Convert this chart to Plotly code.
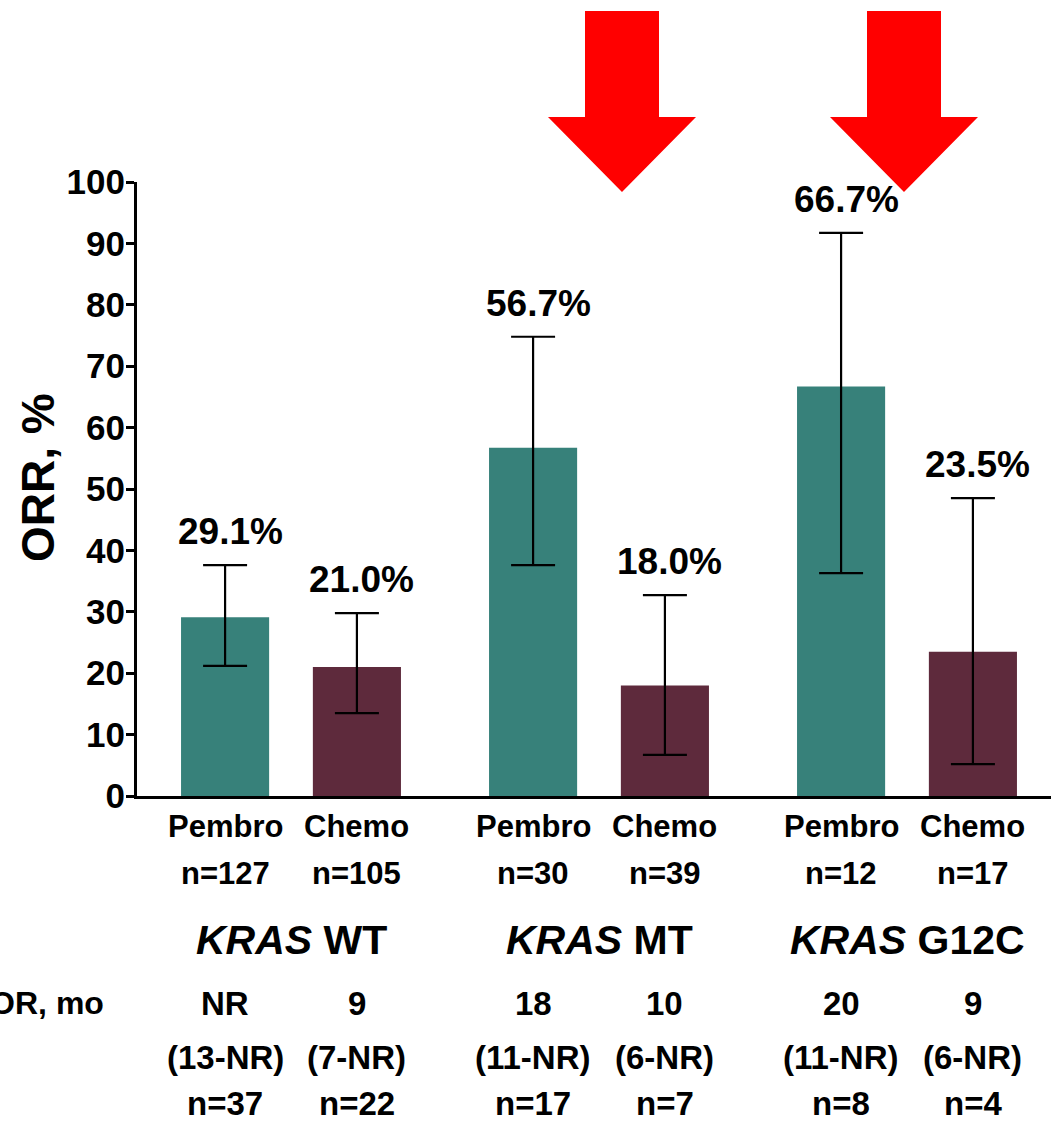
import plotly.graph_objects as go

# ---- data -------------------------------------------------------------
groups = ["WT", "MT", "G12C"]
arms = ["Pembro", "Chemo"]

orr_pembro = [29.1, 56.7, 66.7]
orr_chemo = [21.0, 18.0, 23.5]
ci_low_pembro = [21.2, 37.6, 36.3]
ci_high_pembro = [37.6, 74.8, 91.7]
ci_low_chemo = [13.5, 6.7, 5.2]
ci_high_chemo = [29.8, 32.7, 48.5]

n_pembro = ["n=127", "n=30", "n=12"]
n_chemo = ["n=105", "n=39", "n=17"]

dor_pembro = ["NR", "18", "20"]
dor_ci_pembro = ["(13-NR)", "(11-NR)", "(11-NR)"]
dor_n_pembro = ["n=37", "n=17", "n=8"]
dor_chemo = ["9", "10", "9"]
dor_ci_chemo = ["(7-NR)", "(6-NR)", "(6-NR)"]
dor_n_chemo = ["n=22", "n=7", "n=4"]

yticks = list(range(0, 101, 10))

# ---- styling ----------------------------------------------------------
W, H = 1051, 1122
ML, MR, MT, MB = 137, 0, 182, 326
TEAL = "#37817A"
MAROON = "#5E2A3C"
FONT = "Liberation Sans, Arial, Helvetica, sans-serif"
OFFSET = 0.214      # half distance between the two bars of a group
BAR_W = 0.286
GROUP_PX = 308      # pixel distance between neighbouring group centres

plot_h = H - MT - MB
axis_bottom = H - MB


def px_to_paper(px, py):
    return (px - ML) / (W - ML - MR), (axis_bottom - py) / plot_h


x_group = list(range(len(groups)))
x_pembro = [g - OFFSET for g in x_group]
x_chemo = [g + OFFSET for g in x_group]

fig = go.Figure()

fig.add_trace(go.Bar(
    x=x_pembro, y=orr_pembro, width=BAR_W, name=arms[0],
    marker=dict(color=TEAL, line=dict(width=0)),
    error_y=dict(type="data", symmetric=False,
                 array=[h - v for h, v in zip(ci_high_pembro, orr_pembro)],
                 arrayminus=[v - l for l, v in zip(ci_low_pembro, orr_pembro)],
                 color="black", thickness=2.2, width=22),
))
fig.add_trace(go.Bar(
    x=x_chemo, y=orr_chemo, width=BAR_W, name=arms[1],
    marker=dict(color=MAROON, line=dict(width=0)),
    error_y=dict(type="data", symmetric=False,
                 array=[h - v for h, v in zip(ci_high_chemo, orr_chemo)],
                 arrayminus=[v - l for l, v in zip(ci_low_chemo, orr_chemo)],
                 color="black", thickness=2.2, width=22),
))

annotations = []

# value labels above the upper confidence limit
for xs, vals, highs in ((x_pembro, orr_pembro, ci_high_pembro),
                        (x_chemo, orr_chemo, ci_high_chemo)):
    for x, v, h in zip(xs, vals, highs):
        annotations.append(dict(
            x=x, y=h, xref="x", yref="y", text=f"{v:.1f}%",
            showarrow=False, yanchor="bottom", xanchor="center",
            xshift=5, yshift=11,
            font=dict(family=FONT, size=37, color="black", weight="bold"),
        ))


def below(x, py, text, size):
    annotations.append(dict(
        x=x, y=0, xref="x", yref="paper", text=text, showarrow=False,
        xanchor="center", yanchor="middle", yshift=-(py - axis_bottom),
        font=dict(family=FONT, size=size, color="black", weight="bold"),
    ))


for i, g in enumerate(groups):
    below(x_pembro[i], 826, arms[0], 31)
    below(x_chemo[i], 826, arms[1], 31)
    below(x_pembro[i], 873, n_pembro[i], 31)
    below(x_chemo[i], 873, n_chemo[i], 31)
    below(x_group[i], 940, f"<i>KRAS</i> {g}", 41)
    below(x_pembro[i], 1003, dor_pembro[i], 33)
    below(x_chemo[i], 1003, dor_chemo[i], 33)
    below(x_pembro[i], 1057, dor_ci_pembro[i], 33)
    below(x_chemo[i], 1057, dor_ci_chemo[i], 33)
    below(x_pembro[i], 1103, dor_n_pembro[i], 33)
    below(x_chemo[i], 1103, dor_n_chemo[i], 33)

# row heading for duration of response (runs off the left edge of the page)
annotations.append(dict(
    x=0, y=0, xref="paper", yref="paper", text="DOR, mo", showarrow=False,
    xanchor="right", yanchor="middle", xshift=-(ML - 106),
    yshift=-(1003 - axis_bottom),
    font=dict(family=FONT, size=32, color="black", weight="bold"),
))

# y-axis title, rotated
annotations.append(dict(
    x=0, y=px_to_paper(0, 478)[1], xref="paper", yref="paper", text="ORR, %",
    showarrow=False, textangle=-90, xanchor="center", yanchor="middle",
    xshift=-(ML - 38),
    font=dict(family=FONT, size=46, color="black", weight="bold"),
))


# red down arrows highlighting the KRAS-mutant groups
def arrow_path(cx, top=11, shoulder=117, tip=192, shaft=37, head=74):
    pts = [(cx - shaft, top), (cx + shaft, top), (cx + shaft, shoulder),
           (cx + head, shoulder), (cx, tip), (cx - head, shoulder),
           (cx - shaft, shoulder)]
    conv = [px_to_paper(px, py) for px, py in pts]
    return "M " + " L ".join(f"{a:.5f},{b:.5f}" for a, b in conv) + " Z"


shapes = [dict(type="path", xref="paper", yref="paper", path=arrow_path(cx),
               fillcolor="#FF0000", line=dict(width=0), layer="above")
          for cx in (622, 904)]

# group g is centred GROUP_PX * (g + 0.5) pixels right of the y axis
x_left = -(291 - ML) / GROUP_PX
x_right = x_left + (W - ML - MR) / GROUP_PX

fig.update_layout(
    width=W, height=H,
    margin=dict(l=ML, r=MR, t=MT, b=MB, pad=0, autoexpand=False),
    paper_bgcolor="white", plot_bgcolor="white",
    showlegend=False, barmode="overlay",
    annotations=annotations, shapes=shapes,
    xaxis=dict(range=[x_left, x_right], showgrid=False, automargin=False,
               zeroline=False, showticklabels=False, ticks="",
               showline=True, linecolor="black", linewidth=3, fixedrange=True),
    yaxis=dict(range=[0, 100], tickvals=yticks, showgrid=False, zeroline=False,
               automargin=False,
               showline=True, linecolor="black", linewidth=3,
               ticks="outside", ticklen=8, tickwidth=2.5, tickcolor="black",
               ticklabelstandoff=-6,
               tickfont=dict(family=FONT, size=35, color="black", weight="bold"),
               fixedrange=True),
)

fig.write_html("out.html")
